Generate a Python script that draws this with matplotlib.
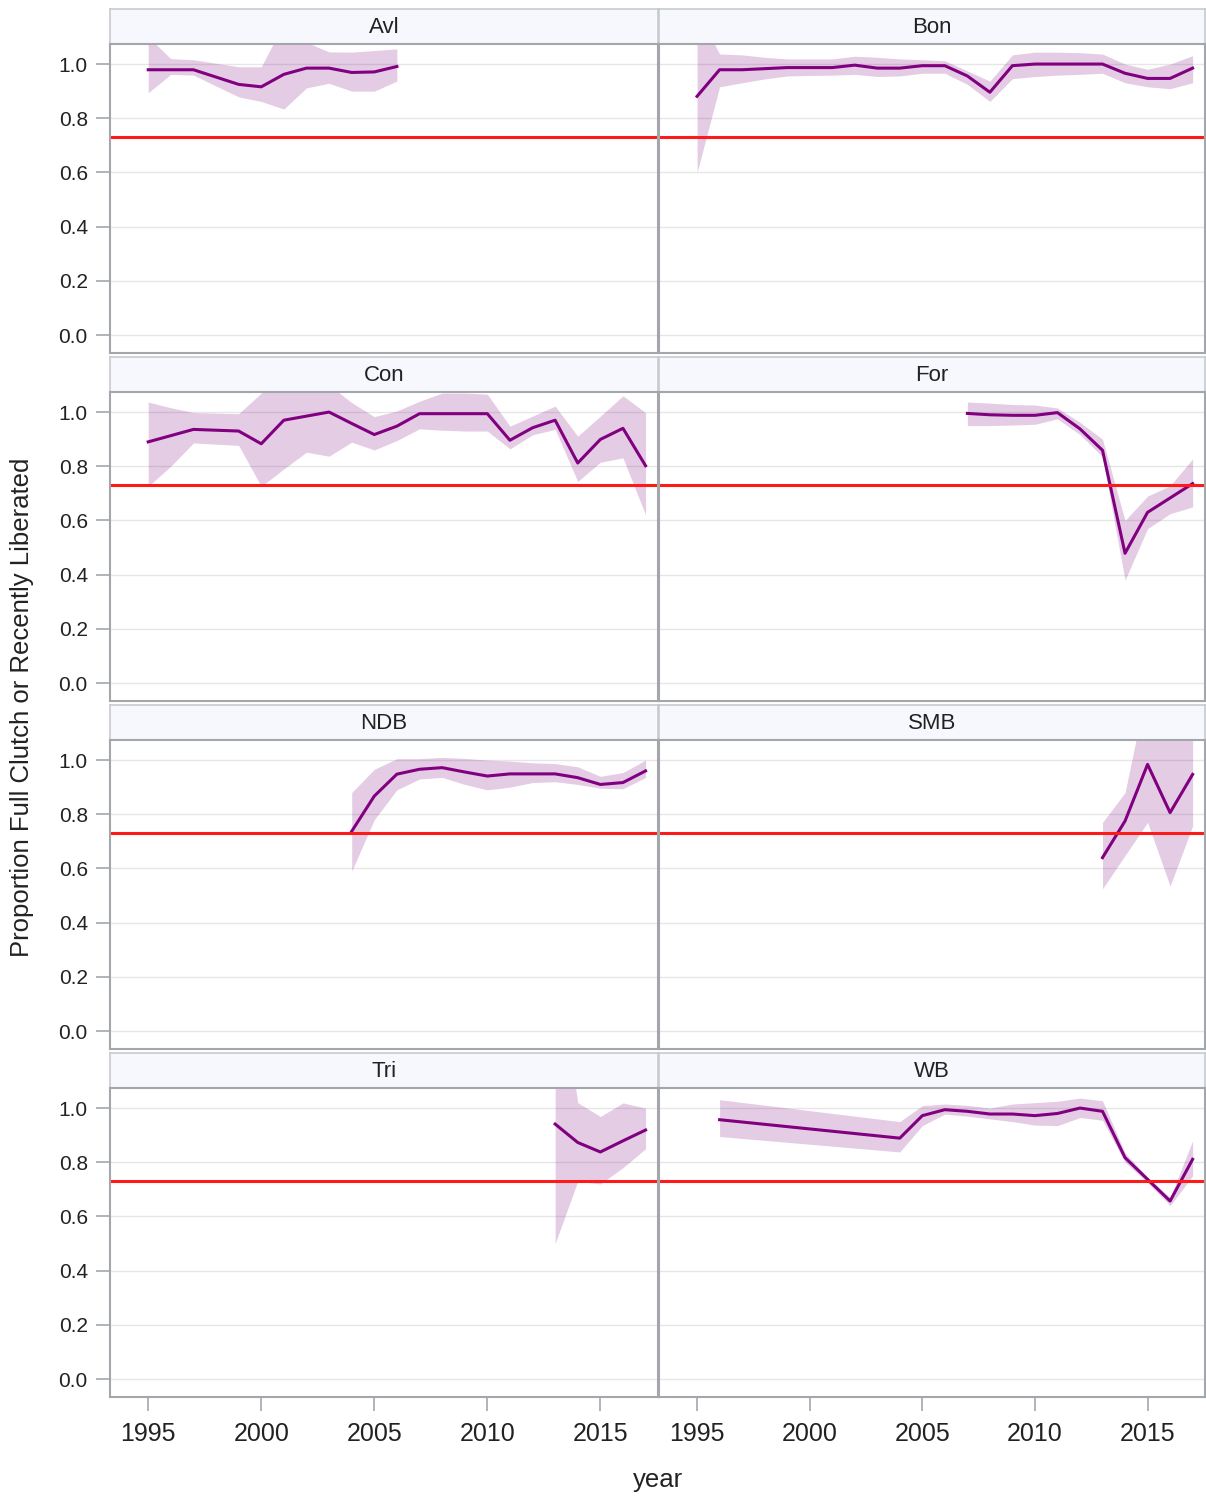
import matplotlib
matplotlib.use("Agg")
import matplotlib.pyplot as plt

plt.rcParams['font.family'] = ['Liberation Sans', 'DejaVu Sans']

# --- data ---
sites = ["Avl", "Bon", "Con", "For", "NDB", "SMB", "Tri", "WB"]
threshold = 0.73

avl_years = [1995, 1996, 1997, 1999, 2000, 2001, 2002, 2003, 2004, 2005, 2006]
avl_est = [0.979, 0.979, 0.979, 0.925, 0.916, 0.962, 0.985, 0.985, 0.969, 0.971, 0.991]
avl_hi = [1.10, 1.02, 1.016, 0.99, 0.99, 1.15, 1.08, 1.045, 1.044, 1.05, 1.056]
avl_lo = [0.894, 0.962, 0.959, 0.879, 0.862, 0.834, 0.912, 0.929, 0.90, 0.90, 0.937]

bon_years = list(range(1995, 2018))
bon_est = [0.881, 0.979, 0.979, 0.983, 0.987, 0.987, 0.987, 0.996, 0.985, 0.985, 0.994, 0.994,
           0.956, 0.896, 0.994, 1.0, 1.0, 1.0, 1.0, 0.966, 0.947, 0.947, 0.985]
bon_hi = [1.2, 1.037, 1.034, 1.025, 1.019, 1.019, 1.019, 1.029, 1.025, 1.019, 1.016, 1.012,
          0.975, 0.937, 1.034, 1.044, 1.044, 1.042, 1.037, 1.0, 0.981, 1.0, 1.031]
bon_lo = [0.60, 0.916, 0.931, 0.945, 0.956, 0.958, 0.959, 0.962, 0.954, 0.956, 0.966, 0.966,
          0.925, 0.862, 0.946, 0.954, 0.959, 0.962, 0.966, 0.931, 0.916, 0.909, 0.931]

con_years = [1995, 1996, 1997, 1999] + list(range(2000, 2018))
con_est = [0.89, 0.913, 0.936, 0.93, 0.883, 0.97, 0.985, 1.0, 0.958, 0.917, 0.948, 0.994,
           0.994, 0.994, 0.994, 0.896, 0.942, 0.97, 0.812, 0.899, 0.94, 0.802]
con_hi = [1.037, 1.016, 0.998, 0.994, 1.07, 1.12, 1.12, 1.10, 1.035, 0.983, 1.004, 1.04,
          1.07, 1.07, 1.066, 0.948, 0.985, 1.022, 0.911, 0.985, 1.06, 0.998]
con_lo = [0.726, 0.80, 0.886, 0.877, 0.726, 0.79, 0.852, 0.837, 0.889, 0.86, 0.895, 0.938,
          0.933, 0.93, 0.93, 0.864, 0.916, 0.936, 0.744, 0.815, 0.831, 0.621]

for_years = list(range(2007, 2018))
for_est = [0.995, 0.99, 0.988, 0.988, 0.998, 0.938, 0.859, 0.479, 0.63, 0.683, 0.736]
for_hi = [1.037, 1.033, 1.028, 1.026, 1.015, 0.962, 0.90, 0.60, 0.69, 0.728, 0.827]
for_lo = [0.95, 0.95, 0.952, 0.955, 0.975, 0.917, 0.835, 0.38, 0.57, 0.625, 0.65]

ndb_years = list(range(2004, 2018))
ndb_est = [0.737, 0.867, 0.948, 0.966, 0.972, 0.956, 0.941, 0.949, 0.949, 0.949, 0.935, 0.91, 0.917, 0.96]
ndb_hi = [0.88, 0.966, 1.005, 1.005, 1.01, 1.006, 1.0, 0.996, 0.99, 0.987, 0.975, 0.94, 0.954, 1.0]
ndb_lo = [0.59, 0.78, 0.89, 0.93, 0.936, 0.91, 0.89, 0.90, 0.917, 0.92, 0.91, 0.896, 0.894, 0.936]

smb_years = [2013, 2014, 2015, 2016, 2017]
smb_est = [0.64, 0.775, 0.984, 0.806, 0.947]
smb_hi = [0.77, 0.88, 1.28, 1.15, 1.15]
smb_lo = [0.525, 0.648, 0.77, 0.535, 0.757]

tri_years = [2013, 2014, 2015, 2016, 2017]
tri_est = [0.941, 0.873, 0.838, 0.879, 0.919]
tri_hi = [1.6, 1.02, 0.969, 1.019, 1.0]
tri_lo = [0.50, 0.73, 0.72, 0.78, 0.85]

wb_years = [1996] + list(range(2004, 2018))
wb_est = [0.957, 0.889, 0.972, 0.994, 0.988, 0.978, 0.978, 0.972, 0.98, 1.0, 0.988, 0.817, 0.737, 0.657, 0.811]
wb_hi = [1.031, 0.95, 1.009, 1.015, 1.01, 1.0, 1.015, 1.02, 1.025, 1.037, 1.027, 0.835, 0.745, 0.67, 0.879]
wb_lo = [0.895, 0.838, 0.935, 0.978, 0.97, 0.96, 0.95, 0.937, 0.935, 0.965, 0.955, 0.80, 0.725, 0.64, 0.75]

series = [
    (avl_years, avl_est, avl_lo, avl_hi),
    (bon_years, bon_est, bon_lo, bon_hi),
    (con_years, con_est, con_lo, con_hi),
    (for_years, for_est, for_lo, for_hi),
    (ndb_years, ndb_est, ndb_lo, ndb_hi),
    (smb_years, smb_est, smb_lo, smb_hi),
    (tri_years, tri_est, tri_lo, tri_hi),
    (wb_years, wb_est, wb_lo, wb_hi),
]

x_ticks = [1995, 2000, 2005, 2010, 2015]
y_ticks = [0.0, 0.2, 0.4, 0.6, 0.8, 1.0]

# --- layout (pixel boxes) ---
W, H = 1206, 1498
fig = plt.figure(figsize=(W / 100, H / 100), dpi=100)

col_px = [(110, 658), (659, 1205)]
row_px = [(44, 353), (392, 701), (740, 1049), (1088, 1397)]
head_h = 35
frame_col = "#A3A7AB"
text_col = "#222222"


def box(x0, x1, y0, y1):
    return [x0 / W, 1 - y1 / H, (x1 - x0) / W, (y1 - y0) / H]


for i, name in enumerate(sites):
    r, c = divmod(i, 2)
    x0, x1 = col_px[c]
    y0, y1 = row_px[r]
    years, est, lo, hi = series[i]

    # header strip
    hax = fig.add_axes(box(x0, x1, y0 - head_h, y0))
    hax.set_facecolor("#F7F8FD")
    hax.set_xticks([])
    hax.set_yticks([])
    for s in hax.spines.values():
        s.set_color("#C8CBCE")
        s.set_linewidth(1.2)
    hax.text(0.5, 0.47, name, ha="center", va="center", fontsize=16, color=text_col)

    ax = fig.add_axes(box(x0, x1, y0, y1))
    ax.fill_between(years, lo, hi, color="#800080", alpha=0.2, linewidth=0)
    ax.plot(years, est, color="#800080", linewidth=2.2)
    ax.axhline(threshold, color="#FF1A1A", linewidth=2.2)

    ax.set_xlim(1993.31, 2017.55)
    ax.set_ylim(-0.066, 1.074)
    ax.set_yticks(y_ticks)
    ax.set_xticks(x_ticks)
    ax.grid(axis="y", color="#E6E6E6", linewidth=1.0)
    ax.set_axisbelow(True)
    for s in ax.spines.values():
        s.set_color(frame_col)
        s.set_linewidth(1.5)
    ax.tick_params(colors=frame_col, width=1.2, labelcolor=text_col)
    if c == 0:
        ax.set_yticklabels([f"{v:.1f}" for v in y_ticks])
        ax.tick_params(axis="y", length=10, pad=6, labelsize=15)
    else:
        ax.tick_params(axis="y", left=False, labelleft=False)
    if r == 3:
        ax.set_xticklabels([str(v) for v in x_ticks])
        ax.tick_params(axis="x", length=10, pad=8, labelsize=18)
    else:
        ax.tick_params(axis="x", bottom=False, labelbottom=False)

fig.text(22 / W, 1 - 707 / H, "Proportion Full Clutch or Recently Liberated",
         rotation=90, ha="center", va="center", fontsize=18.5, color=text_col)
fig.text(658 / W, 1 - 1480 / H, "year", ha="center", va="center", fontsize=18.5, color=text_col)

fig.savefig("out.png", dpi=100)
